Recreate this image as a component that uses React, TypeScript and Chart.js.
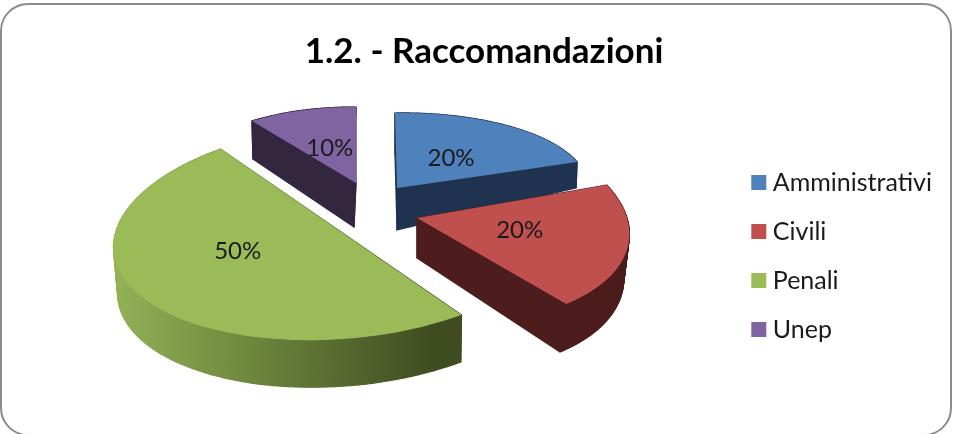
import React, { useEffect, useRef } from "react";
import { Chart, registerables } from "chart.js";

Chart.register(...registerables);

const categories = ["Amministrativi", "Civili", "Penali", "Unep"];
const seriesValues = [20, 20, 50, 10];
const titleText = "1.2. - Raccomandazioni";
const topColors = ["#4f81bd", "#c0504d", "#9bbb59", "#8064a2"];
const wallColors = ["#1f3350", "#4c1d1c", "#5c6f33", "#33263f"];
const paintOrder = [3, 0, 1, 2];

// View projection of the flat pie into the tilted, exploded 3D look.
const viewOrigin = { x: 370, y: 210 };
const explode = [
  { x: 27, y: -22 },
  { x: 47, y: 8 },
  { x: -29, y: 22 },
  { x: -14, y: -27 },
];
const topMatrix = [
  [190, 2, -3, 75],
  [210, 32, 0, 106.4],
  [227, -16, -7.5, 108],
  [177, 0, 0.9, 76],
];
const depthShift = [
  { x: 0, y: 42 },
  { x: 0, y: 40 },
  { x: 0, y: 47 },
  { x: -2, y: 44 },
];
const bottomMatrix = [
  [189, 2, -20, 75],
  [205, 27.8, 5, 112.5],
  [223, -14, -7.5, 108],
  [172, 0, 11, 76],
];
const labelNudge = [
  { x: -1, y: 1 },
  { x: 0, y: -4 },
  { x: -1, y: -18 },
  { x: 0, y: 0 },
];
const labelFraction = [0.5, 0.49, 0.53, 0.48];

const FONT = "Lato, Carlito, 'Open Sans', sans-serif";

type Pt = { x: number; y: number };
const proj = (m: number[], o: Pt, a: number): Pt => ({
  x: o.x + m[0] * Math.cos(a) + m[1] * Math.sin(a),
  y: o.y + m[2] * Math.cos(a) + m[3] * Math.sin(a),
});

const pie3d = {
  id: "pie3d",
  beforeDatasetDraw(chart: any) {
    const ctx: CanvasRenderingContext2D = chart.ctx;
    const arcs = chart.getDatasetMeta(0).data;
    for (const i of paintOrder) {
      const arc = arcs[i];
      const { x, y, startAngle, endAngle, outerRadius } = arc.getProps(
        ["x", "y", "startAngle", "endAngle", "outerRadius"],
        true
      );
      const top: Pt = { x: viewOrigin.x + explode[i].x, y: viewOrigin.y + explode[i].y };
      const bot: Pt = { x: top.x + depthShift[i].x, y: top.y + depthShift[i].y };
      const mt = topMatrix[i];
      const mb = bottomMatrix[i];

      let wall: string | CanvasGradient = wallColors[i];
      if (i === 2) {
        const g = ctx.createLinearGradient(113, 0, 462, 0);
        g.addColorStop(0, "#93b257");
        g.addColorStop(0.55, "#5f7534");
        g.addColorStop(0.92, "#3f4c20");
        g.addColorStop(1, "#3f4c20");
        wall = g;
      }
      ctx.save();
      ctx.fillStyle = wall;
      ctx.strokeStyle = wall;
      ctx.lineWidth = 1.2;
      ctx.lineJoin = "round";
      const steps = 90;
      const quad = (a: Pt, b: Pt, c: Pt, d: Pt) => {
        ctx.beginPath();
        ctx.moveTo(a.x, a.y);
        ctx.lineTo(b.x, b.y);
        ctx.lineTo(c.x, c.y);
        ctx.lineTo(d.x, d.y);
        ctx.closePath();
        ctx.fill();
        ctx.stroke();
      };
      for (let s = 0; s < steps; s++) {
        const a0 = startAngle + ((endAngle - startAngle) * s) / steps;
        const a1 = startAngle + ((endAngle - startAngle) * (s + 1)) / steps;
        quad(proj(mt, top, a0), proj(mt, top, a1), proj(mb, bot, a1), proj(mb, bot, a0));
      }
      quad(top, proj(mt, top, startAngle), proj(mb, bot, startAngle), bot);
      quad(top, proj(mt, top, endAngle), proj(mb, bot, endAngle), bot);
      ctx.restore();

      ctx.save();
      ctx.transform(mt[0], mt[2], mt[1], mt[3], top.x, top.y);
      ctx.scale(1 / outerRadius, 1 / outerRadius);
      ctx.translate(-x, -y);
      arc.draw(ctx);
      ctx.restore();
    }

    const total = seriesValues.reduce((a, b) => a + b, 0);
    ctx.save();
    ctx.font = `24px ${FONT}`;
    ctx.fillStyle = "#1a1a1a";
    ctx.textAlign = "center";
    ctx.textBaseline = "middle";
    arcs.forEach((arc: any, i: number) => {
      const { startAngle, endAngle } = arc.getProps(["startAngle", "endAngle"], true);
      const mid = (startAngle + endAngle) / 2;
      const top: Pt = { x: viewOrigin.x + explode[i].x, y: viewOrigin.y + explode[i].y };
      const p = proj(topMatrix[i], { x: 0, y: 0 }, mid);
      ctx.fillText(
        `${Math.round((seriesValues[i] / total) * 100)}%`,
        top.x + p.x * labelFraction[i] + labelNudge[i].x,
        top.y + p.y * labelFraction[i] + labelNudge[i].y
      );
    });
    ctx.restore();
    return false;
  },
};

export default function App() {
  const ref = useRef<HTMLCanvasElement>(null);
  useEffect(() => {
    const chart = new Chart(ref.current!, {
      type: "pie",
      data: {
        labels: categories,
        datasets: [
          {
            data: seriesValues,
            backgroundColor: topColors,
            borderWidth: 0,
          },
        ],
      },
      options: {
        responsive: false,
        animation: false,
        layout: { padding: { top: 21, right: 11, bottom: 0, left: 26 } },
        plugins: {
          title: {
            display: true,
            text: titleText,
            color: "#000000",
            font: { family: FONT, size: 35, weight: "bold" },
            padding: { top: 10, bottom: 5 },
          },
          legend: {
            position: "right",
            fullSize: false,
            labels: {
              color: "#1a1a1a",
              font: { family: FONT, size: 25 },
              usePointStyle: true,
              pointStyle: "rect",
              boxWidth: 3,
              boxHeight: 15,
              padding: 24,
            },
          },
          tooltip: { enabled: false },
        },
      } as any,
      plugins: [pie3d] as any,
    });
    return () => chart.destroy();
  }, []);
  return (
    <div
      style={{
        position: "fixed",
        left: 0,
        top: 0,
        width: 953,
        height: 434,
        overflow: "hidden",
        background: "#ffffff",
      }}
    >
      <div
        style={{
          position: "absolute",
          left: 0,
          top: 3,
          width: 952,
          height: 433,
          boxSizing: "border-box",
          border: "2px solid #8c8c8c",
          borderRadius: 28,
        }}
      />
      <canvas
        ref={ref}
        width={953}
        height={434}
        style={{ position: "absolute", left: 0, top: 0, filter: "blur(0.4px)" }}
      />
    </div>
  );
}
